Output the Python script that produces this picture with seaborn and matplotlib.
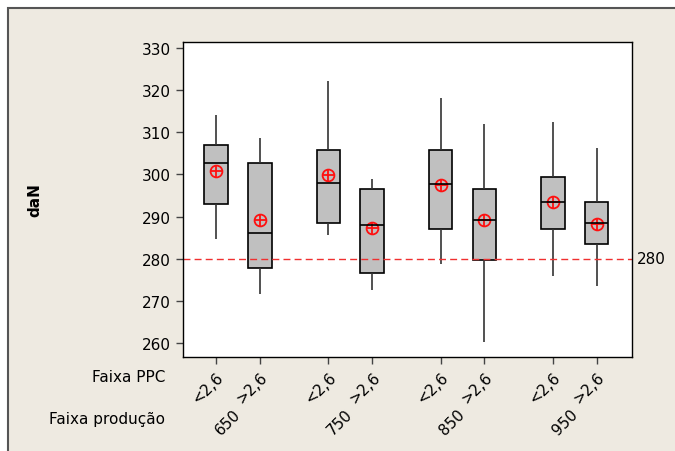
import numpy as np
import pandas as pd
import seaborn as sns
import matplotlib
matplotlib.use("Agg")
import matplotlib.pyplot as plt
import matplotlib.patches as mpatches

# values (daN)
producao = ["650", "750", "850", "950"]
ppc = ["<2,6", ">2,6"]
# order: (650,<2,6), (650,>2,6), (750,<2,6), ...
lo = [284.8, 271.6, 285.7, 272.7, 278.7, 260.2, 275.8, 273.6]
q1 = [293.1, 277.7, 288.4, 276.6, 287.0, 279.7, 287.0, 283.4]
med = [302.7, 286.2, 297.9, 288.1, 297.7, 289.2, 293.4, 288.4]
q3 = [306.9, 302.6, 305.8, 296.5, 305.8, 296.5, 299.3, 293.5]
hi = [314.2, 308.7, 322.2, 299.0, 318.1, 311.9, 312.4, 306.3]
media = [300.8, 289.1, 299.8, 287.3, 297.5, 289.2, 293.4, 288.3]
ref = 280

# five numbers per box -> quartiles of the sample hit q1/med/q3 exactly
rows = []
for i in range(8):
    for v in (lo[i], q1[i], med[i], q3[i], hi[i]):
        rows.append({"prod": producao[i // 2], "ppc": ppc[i % 2], "daN": v})
df = pd.DataFrame(rows)

sns.set_style("white")
plt.rcParams['font.family'] = ['DejaVu Sans']
plt.rcParams['text.color'] = 'black'
plt.rcParams['xtick.color'] = 'black'
plt.rcParams['ytick.color'] = 'black'
plt.rcParams['axes.labelcolor'] = 'black'
beige = "#EEEAE1"

fig = plt.figure(figsize=(6.75, 4.52), dpi=100, facecolor="white")
bg = mpatches.Rectangle((8 / 675, -0.01), 1.0, 1 - 9 / 452 + 0.01,
                        transform=fig.transFigure, facecolor=beige,
                        edgecolor="#555555", linewidth=1.5, zorder=-10)
fig.patches.append(bg)
ax = fig.add_axes([183 / 675, 1 - 358 / 452, (632 - 183) / 675, (358 - 43) / 452])

width = 0.78
sns.boxplot(data=df, x="prod", y="daN", hue="ppc", order=producao, hue_order=ppc,
            palette=["#C0C0C0", "#C0C0C0"], width=width, gap=0.46, whis=(0, 100),
            showcaps=False, linecolor="black", linewidth=1.2,
            whiskerprops={"color": "#333333"}, medianprops={"color": "black"},
            legend=False, ax=ax)

pos = [g + s * width / 4 for g in range(4) for s in (-1, 1)]
ax.plot(pos, media, ls="none", marker="o", mfc="none", mec="#FF1010", mew=1.3, ms=8.5)
ax.plot(pos, media, ls="none", marker="+", color="#FF1010", mew=1.3, ms=8.5)

ax.axhline(ref, color="#F03030", ls=(0, (5, 3)), lw=1)
ax.text(1.01, ref, "280", transform=ax.get_yaxis_transform(), va="center",
        ha="left", fontsize=11)

ax.set_xlim(-0.49, 3.51)
ax.set_ylim(256.7, 331.4)
ax.set_yticks(range(260, 331, 10))
ax.set_xticks(pos)
ax.set_xticklabels(ppc * 4, rotation=45, ha="right", rotation_mode="anchor", fontsize=11)
ax.tick_params(axis="both", direction="out", length=5, width=1, color="#444444",
               labelsize=11, bottom=True, left=True)
ax.set_xlabel("")
ax.set_ylabel("daN", fontsize=11, fontweight="bold", labelpad=72)
ax.set_facecolor("white")
for sp in ax.spines.values():
    sp.set_color("black")
    sp.set_linewidth(1)

for g, p in enumerate(producao):
    ax.text(g - 0.09, -0.205, p, transform=ax.get_xaxis_transform(), rotation=45,
            ha="center", va="center", fontsize=11)

fig.text(165 / 675, 1 - 378 / 452, "Faixa PPC", ha="right", va="center", fontsize=11)
fig.text(165 / 675, 1 - 420 / 452, "Faixa produção", ha="right", va="center", fontsize=11)

fig.savefig("out.png", dpi=100, facecolor="white")
